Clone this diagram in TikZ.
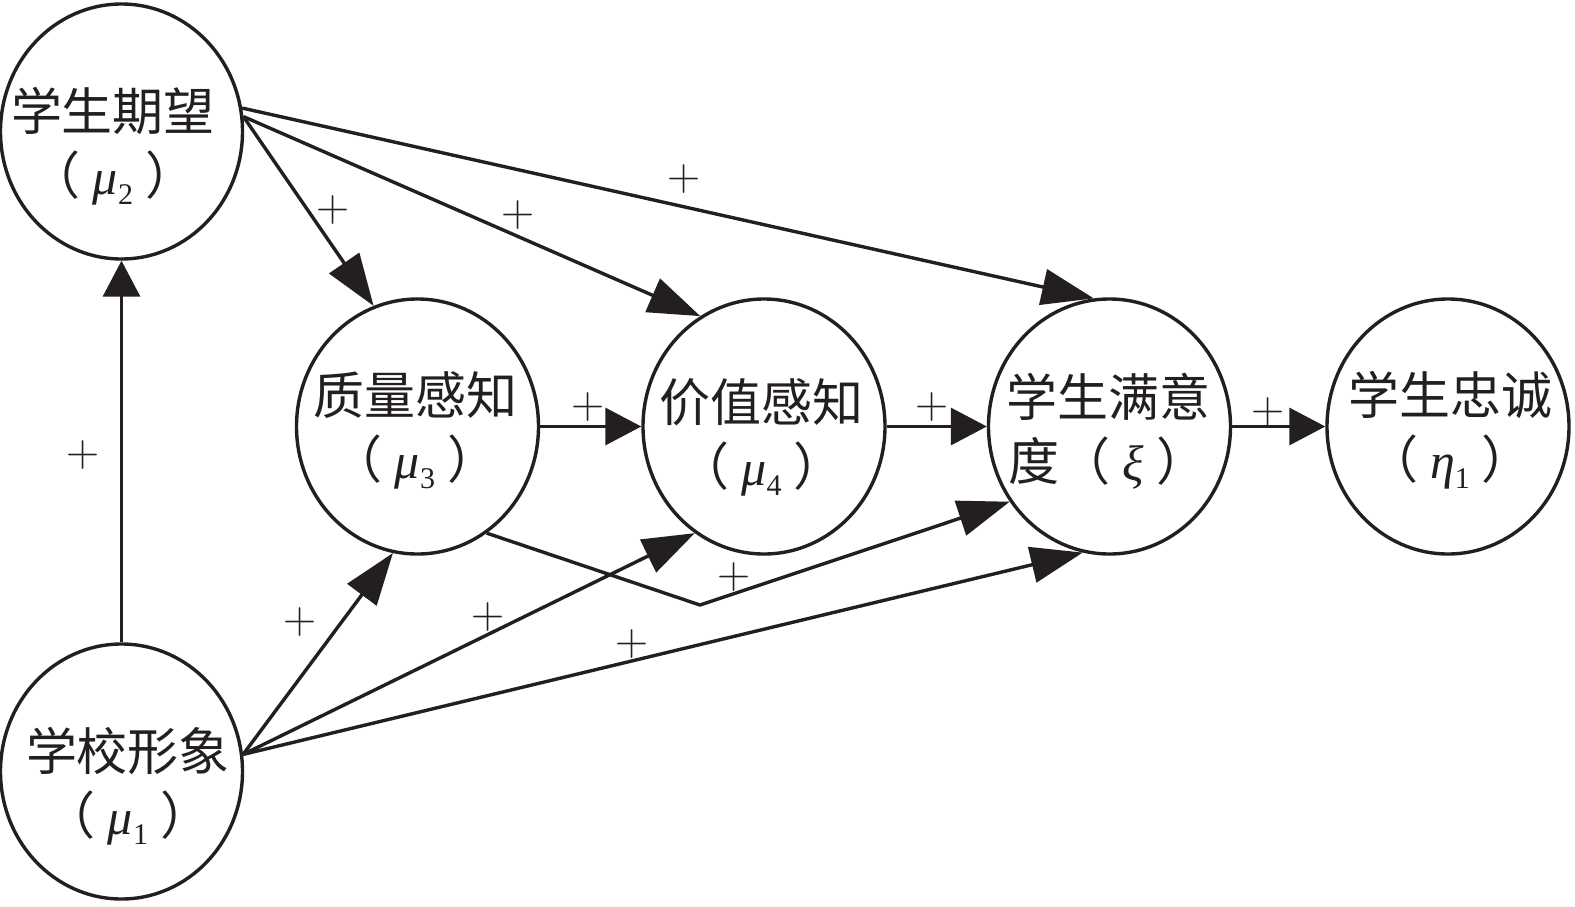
\documentclass[tikz,border=0pt]{standalone}
\usepackage{fontspec}
\newfontfamily\cjk{Noto Sans CJK SC}
\newfontfamily\tms{Liberation Serif}
\usetikzlibrary{arrows.meta,shapes.geometric}
\definecolor{ink}{RGB}{35,31,32}
\newcommand\grk[1]{\hspace{12pt}{\tms\itshape\fontsize{50}{50}\selectfont #1}}
\newcommand\mysub[1]{\raisebox{-10pt}{\tms\fontsize{30}{30}\selectfont #1}}
\newcommand\gap{\hspace{12pt}}
\begin{document}
\begin{tikzpicture}[x=1pt,y=-1pt,
  var/.style={ellipse, draw=ink, line width=3.4pt, minimum width=242pt, minimum height=255pt, inner sep=0pt},
  txt/.style={align=center, font=\cjk\fontsize{51}{64}\selectfont, text=ink, inner sep=0pt},
  lk/.style={draw=ink, line width=3.4pt, -{Triangle[length=52pt,width=36pt]}},
  sk/.style={draw=ink, line width=3.4pt, -{Triangle[length=36pt,width=37pt]}},
  pl/.style={font=\rmfamily\fontsize{46}{46}\selectfont, text=ink, inner sep=0pt}]
\useasboundingbox (0,0) rectangle (1575,906);
% variables
\node[var] (mu2) at (121.5,131.5) {};
\node[var] (mu1) at (121.5,771.5) {};
\node[var] (mu3) at (417.5,426.5) {};
\node[var] (mu4) at (764,426.5) {};
\node[var] (xi)  at (1109.5,426.5) {};
\node[var] (eta) at (1448,426.5) {};
% texts
\node[txt] (t2) at (113,146) {学生期望\\（\grk{μ}\mysub{2}\gap）};
\node[txt] (t1) at (128,786) {学校形象\\（\grk{μ}\mysub{1}\gap）};
\node[txt] (t3) at (415,430) {质量感知\\（\grk{μ}\mysub{3}\gap）};
\node[txt] (t4) at (761.5,437) {价值感知\\（\grk{μ}\mysub{4}\gap）};
\node[txt] (t5) at (1108,431) {学生满意\\度（\grk{ξ}\gap）};
\node[txt] (t6) at (1450,430) {学生忠诚\\（\grk{η}\mysub{1}\gap）};
% connectors
\draw[sk] (mu1.north) -- (mu2.south);
\draw[lk] (mu2.7) -- (mu3.110);
\draw[lk] (mu2.7) -- (mu4.120);
\draw[lk] (mu2.11.5) -- (xi.97);
\draw[sk] (mu3.east) -- (mu4.west);
\draw[sk] (mu4.east) -- (xi.west);
\draw[sk] (xi.east) -- (eta.west);
\draw[lk] (mu1.8) -- (mu3.-101);
\draw[lk] (mu1.8) -- (mu4.-123);
\draw[lk] (mu1.8) -- (xi.-102);
\coordinate (bend) at (700,605);
\draw[lk] (mu3.-57) -- (bend) -- (xi.-143.5);
% signs
\node[pl] (p1) at (83,455) {+};
\node[pl] (p2) at (333,210) {+};
\node[pl] (p3) at (518,215) {+};
\node[pl] (p4) at (684,179) {+};
\node[pl] (p5) at (588,407) {+};
\node[pl] (p6) at (932,407) {+};
\node[pl] (p7) at (1268,412) {+};
\node[pl] (p8) at (300,622) {+};
\node[pl] (p9) at (488,617) {+};
\node[pl] (p10) at (632,644) {+};
\node[pl] (p11) at (734,577) {+};
\end{tikzpicture}
\end{document}
